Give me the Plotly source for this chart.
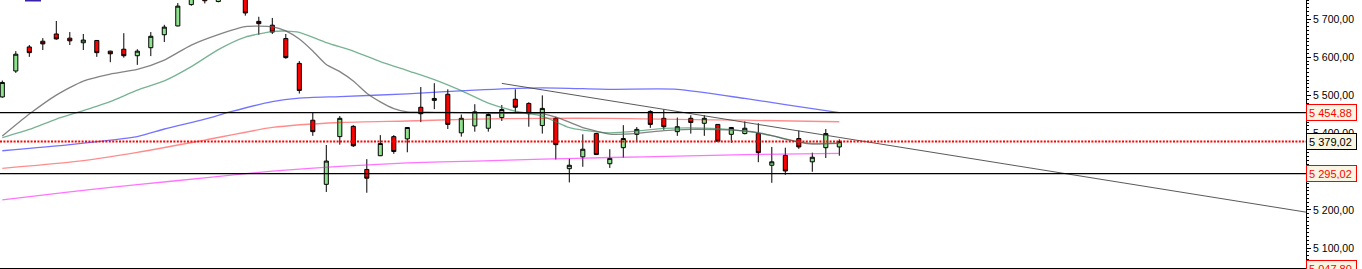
import plotly.graph_objects as go

# ---- candle data (index = trading session) ----
opens = [5496, 5564, 5627, 5642, 5661, 5650, 5638, 5644, 5616, 5621,
         5604, 5625, 5659, 5682, 5738, 5772, 5746, 5785, 5766, 5694,
         5684, 5649, 5584, 5435, 5267, 5392, 5419, 5306, 5342, 5392,
         5386, 5469, 5487, 5503, 5402, 5420, 5414, 5442, 5490, 5479,
         5421, 5440, 5308, 5339, 5400, 5321, 5363, 5398, 5458, 5440,
         5405, 5440, 5427, 5424, 5398, 5400, 5400, 5317, 5343, 5387,
         5326, 5363, 5365]
highs = [5539, 5616, 5632, 5650, 5695, 5666, 5661, 5645, 5617, 5663,
         5621, 5666, 5685, 5742, 5775, 5788, 5790, 5798, 5770, 5706,
         5703, 5661, 5590, 5455, 5370, 5446, 5422, 5333, 5396, 5396,
         5417, 5522, 5532, 5516, 5450, 5477, 5456, 5475, 5516, 5482,
         5500, 5444, 5334, 5398, 5402, 5359, 5422, 5417, 5461, 5463,
         5442, 5448, 5448, 5425, 5417, 5432, 5427, 5365, 5363, 5408,
         5350, 5412, 5385]
lows = [5494, 5559, 5601, 5619, 5646, 5632, 5619, 5601, 5587, 5599,
        5580, 5603, 5640, 5681, 5735, 5741, 5744, 5758, 5709, 5659,
        5661, 5596, 5505, 5394, 5247, 5371, 5365, 5245, 5341, 5347,
        5351, 5430, 5464, 5412, 5392, 5405, 5405, 5433, 5456, 5418,
        5400, 5332, 5272, 5313, 5344, 5310, 5337, 5381, 5415, 5410,
        5394, 5400, 5394, 5379, 5376, 5398, 5325, 5271, 5292, 5360,
        5300, 5336, 5342]
closes = [5534, 5608, 5612, 5635, 5648, 5643, 5645, 5612, 5609, 5604,
          5616, 5655, 5679, 5734, 5768, 5748, 5778, 5765, 5716, 5688,
          5666, 5599, 5513, 5405, 5328, 5440, 5368, 5283, 5374, 5353,
          5416, 5452, 5492, 5424, 5440, 5457, 5450, 5463, 5469, 5452,
          5466, 5371, 5317, 5359, 5345, 5335, 5387, 5411, 5424, 5418,
          5418, 5429, 5440, 5380, 5416, 5414, 5350, 5326, 5302, 5365,
          5338, 5400, 5379.02]
sessions = list(range(len(opens)))

# ---- moving averages (session index, value) ----
ma_gray_x = [0, 2, 4, 6, 8, 10, 12, 14, 16, 18, 20, 21, 22, 23, 24, 25, 26, 27, 28, 29,
             30, 32, 34, 36, 38, 40, 41, 42, 43, 44, 45, 47, 49, 51, 53, 55, 56, 57, 58,
             59, 60, 62]
ma_gray_y = [5393.4, 5451.1, 5500.9, 5537.5, 5555.9, 5568.2, 5592.6, 5631.9, 5659.4, 5680.4,
             5679.8, 5669.1, 5647.6, 5616.2, 5580.8, 5562.2, 5537.5, 5505.6, 5483.0, 5465.5,
             5457.1, 5455.8, 5455.0, 5453.2, 5453.2, 5452.4, 5443.2, 5430.1, 5415.7, 5406.5,
             5398.7, 5400.5, 5407.8, 5411.2, 5410.4, 5407.0, 5402.6, 5394.7, 5385.6,
             5377.7, 5372.4, 5374.3]

ma_green_x = [0, 2, 4, 6, 8, 10, 12, 14, 16, 18, 20, 21, 22, 24, 26, 28, 30, 32, 34, 36,
              38, 40, 42, 43, 45, 47, 49, 51, 53, 55, 57, 59, 60, 62]
ma_green_y = [5389.5, 5411.0, 5438.0, 5460.2, 5483.8, 5514.0, 5538.1, 5575.5, 5620.1, 5652.8,
              5667.3, 5668.6, 5665.2, 5638.4, 5616.2, 5588.6, 5565.1, 5541.5, 5512.6, 5479.9,
              5458.9, 5445.8, 5415.7, 5409.1, 5402.1, 5406.5, 5413.6, 5415.2, 5413.1, 5406.5,
              5394.7, 5378.2, 5374.3, 5375.9]

ma_blue_x = [0, 5, 10, 12, 15, 17, 20, 22, 25, 30, 35, 40, 45, 50, 55, 58, 62]
ma_blue_y = [5355, 5371, 5392, 5412, 5438, 5458, 5484, 5493, 5497, 5504, 5514, 5520, 5516,
             5516, 5492, 5476, 5455]

ma_red_x = [0, 5, 10, 15, 20, 25, 30, 35, 40, 45, 50, 55, 62]
ma_red_y = [5309, 5325, 5351, 5383, 5416, 5429, 5433, 5438, 5440, 5440, 5437, 5435, 5431]

ma_pink_x = [0, 5, 10, 15, 20, 25, 30, 35, 40, 45, 50, 55, 62]
ma_pink_y = [5226.5, 5247.2, 5266.3, 5283.9, 5301.7, 5314.0, 5323.2, 5327.9, 5333.1, 5337.3,
             5340.7, 5344.9, 5348.1]

# ---- trend line and levels ----
trend_x = [37, 96.6]
trend_y = [5531.5, 5194.0]
support_resistance = [5454.88, 5295.02]
last_price = 5379.02
axis_min = 5047.80
axis_max = 5750.0
x_min, x_max = -0.17, 96.57

tick_vals = [5100, 5200, 5300, 5400, 5500, 5600, 5700]
tick_text = ["5 100,00", "5 200,00", "5 300,00", "5 400,00", "5 500,00", "5 600,00", "5 700,00"]
level_labels = ["5 454,88", "5 295,02"]
last_label = "5 379,02"
min_label = "5 047,80"

fig = go.Figure()

def ma_trace(xs, ys, color):
    return go.Scatter(x=xs, y=ys, mode="lines", hoverinfo="skip", showlegend=False,
                      line=dict(color=color, width=1.3, shape="spline", smoothing=0.6))

fig.add_trace(ma_trace(ma_pink_x, ma_pink_y, "rgba(255,0,255,0.55)"))
fig.add_trace(ma_trace(ma_red_x, ma_red_y, "rgba(255,0,0,0.45)"))
fig.add_trace(ma_trace(ma_blue_x, ma_blue_y, "rgba(0,0,255,0.55)"))
fig.add_trace(ma_trace(ma_green_x, ma_green_y, "rgba(46,139,87,0.65)"))
fig.add_trace(ma_trace(ma_gray_x, ma_gray_y, "rgba(90,90,90,0.75)"))

fig.add_trace(go.Scatter(x=trend_x, y=trend_y, mode="lines", hoverinfo="skip", showlegend=False,
                         line=dict(color="rgba(60,60,60,0.85)", width=1)))

for lv in support_resistance:
    fig.add_trace(go.Scatter(x=[x_min, x_max], y=[lv, lv], mode="lines", hoverinfo="skip",
                             showlegend=False, line=dict(color="black", width=1.2)))

fig.add_trace(go.Candlestick(
    x=sessions, open=opens, high=highs, low=lows, close=closes,
    showlegend=False, whiskerwidth=0,
    increasing=dict(line=dict(color="black", width=1), fillcolor="#8fe38f"),
    decreasing=dict(line=dict(color="black", width=1), fillcolor="#ff0000"),
))

fig.add_trace(go.Scatter(x=[x_min, x_max], y=[last_price, last_price], mode="lines",
                         hoverinfo="skip", showlegend=False,
                         line=dict(color="#ff0000", width=2, dash="2px,1.4px")))

annots = []
def box_label(text, yv, color, border):
    return dict(x=1, xref="paper", xanchor="left", y=yv, yref="y", yanchor="middle",
                text=text, showarrow=False, align="left",
                font=dict(family="Liberation Sans, Arial, sans-serif", size=11, color=color),
                bgcolor="#f8f6e2", bordercolor=border, borderwidth=1, borderpad=2,
                width=45, height=11)

annots.append(box_label(level_labels[0], support_resistance[0], "#ff0000", "#ff0000"))
annots.append(box_label(last_label, last_price, "#000000", "#000000"))
annots.append(box_label(level_labels[1], support_resistance[1], "#ff0000", "#ff0000"))
annots.append(box_label(min_label, axis_min, "#ff0000", "#ff0000"))

fig.update_layout(
    width=1362, height=269,
    margin=dict(l=0, r=56, t=0, b=1),
    paper_bgcolor="white", plot_bgcolor="white",
    boxgap=0.57, boxgroupgap=0.3,
    showlegend=False,
    annotations=annots,
    shapes=[dict(type="rect", xref="paper", yref="paper", x0=25 / 1306, x1=41 / 1306,
                 y0=1 - 1.5 / 268, y1=1, fillcolor="#3a22a8", line=dict(width=0))],
    xaxis=dict(range=[x_min, x_max], showgrid=False, zeroline=False, showticklabels=False,
               ticks="", showline=True, linecolor="black", linewidth=1,
               rangeslider=dict(visible=False), fixedrange=True),
    yaxis=dict(range=[axis_min, axis_max], side="right", showgrid=False, zeroline=False,
               tickvals=tick_vals, ticktext=tick_text, ticks="outside", ticklen=4,
               tickcolor="black", showline=True, linecolor="black", linewidth=1,
               tickfont=dict(family="Liberation Sans, Arial, sans-serif", size=10.5, color="black"),
               minor=dict(dtick=10, ticks="outside", ticklen=2, tickcolor="black", showgrid=False),
               fixedrange=True),
)

fig.write_html("out.html")
